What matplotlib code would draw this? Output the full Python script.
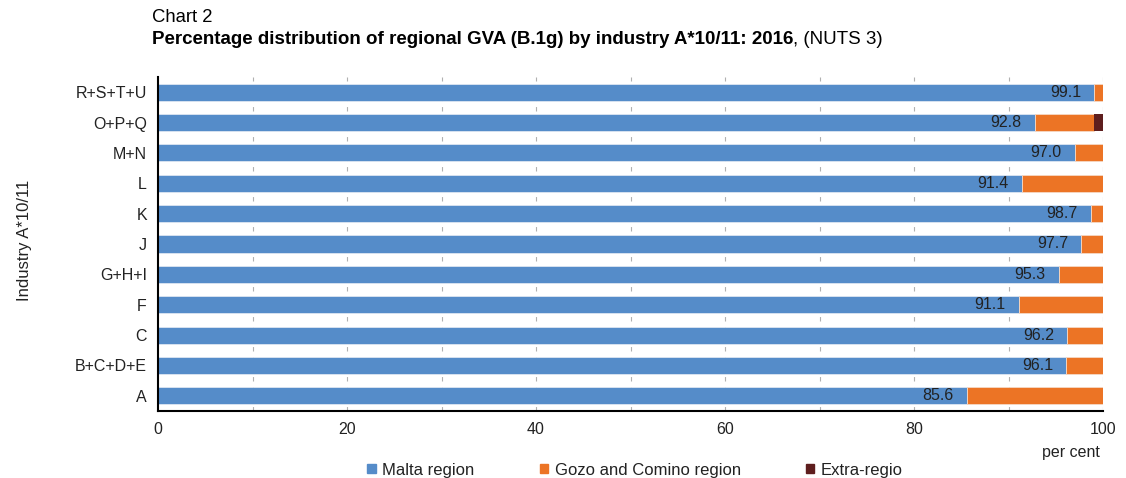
import matplotlib.pyplot as plt
from matplotlib.patches import Patch

plt.rcParams['font.family'] = ['Liberation Sans', 'DejaVu Sans']

industries = ["A", "B+C+D+E", "C", "F", "G+H+I", "J", "K", "L", "M+N", "O+P+Q", "R+S+T+U"]
malta = [85.6, 96.1, 96.2, 91.1, 95.3, 97.7, 98.7, 91.4, 97.0, 92.8, 99.1]
gozo = [14.4, 3.9, 3.8, 8.9, 4.7, 2.3, 1.3, 8.6, 3.0, 6.3, 0.9]
extra = [0, 0, 0, 0, 0, 0, 0, 0, 0, 0.9, 0]

c_malta = "#558CC9"
c_gozo = "#EC7425"
c_extra = "#5E1E1E"
txt = "#222222"

fig = plt.figure(figsize=(11.26, 4.78), dpi=100)
ax = fig.add_axes([158 / 1126, (478 - 411) / 478, 945 / 1126, 334 / 478])

y = range(len(industries))
h = 0.56
ax.barh(y, malta, height=h, color=c_malta, edgecolor="#dde6f2", linewidth=0.6, zorder=2)
ax.barh(y, gozo, left=malta, height=h, color=c_gozo, edgecolor="#f5d9c5", linewidth=0.6, zorder=2)
left3 = [m + g for m, g in zip(malta, gozo)]
ax.barh(y, extra, left=left3, height=h, color=c_extra, linewidth=0, zorder=2)

for i, v in enumerate(malta):
    ax.text(v - 1.4, i, f"{v:.1f}", ha="right", va="center", fontsize=11.5, color=txt, zorder=3)

ax.set_xlim(0, 100)
ax.set_ylim(-0.5, len(industries) - 0.5)
ax.set_yticks(list(y))
ax.set_yticklabels(industries)
ax.set_xticks([0, 20, 40, 60, 80, 100])
ax.tick_params(axis="both", length=0, labelsize=11.5, colors=txt)
ax.tick_params(axis="x", pad=8)
ax.tick_params(axis="y", pad=8)
for gx in range(10, 101, 10):
    ax.axvline(gx, color="#b0b0b0", linestyle=(0, (4, 5)), linewidth=0.8, zorder=1)

for s in ["top", "right"]:
    ax.spines[s].set_visible(False)
ax.spines["left"].set_linewidth(1.5)
ax.spines["bottom"].set_linewidth(1.5)

fig.text(25 / 1126, 1 - 240 / 478, "Industry A*10/11", fontsize=12, color=txt,
         rotation=90, ha="center", va="center")

fig.text(152 / 1126, 1 - 18 / 478, "Chart 2", fontsize=13.3, va="center", ha="left")
title = fig.text(152 / 1126, 1 - 39 / 478,
                 "Percentage distribution of regional GVA (B.1g) by industry A*10/11: 2016",
                 fontsize=13.5, fontweight="bold", va="center", ha="left")
fig.canvas.draw()
bb = title.get_window_extent()
fig.text(bb.x1 / 1126, 1 - 39 / 478, ", (NUTS 3)", fontsize=13.5, va="center", ha="left")

fig.text(1100 / 1126, 1 - 452 / 478, "per cent", fontsize=11.5, ha="right", va="center", color=txt)

handles = [Patch(color=c_malta), Patch(color=c_gozo), Patch(color=c_extra)]
fig.legend(handles, ["Malta region", "Gozo and Comino region", "Extra-regio"],
           loc="center", bbox_to_anchor=(635 / 1126, 1 - 470 / 478), ncol=3, frameon=False,
           fontsize=12, handlelength=0.5, handleheight=0.5, handletextpad=0.4,
           columnspacing=3.9, borderpad=0, labelcolor=txt)

fig.savefig("out.png", dpi=100)
